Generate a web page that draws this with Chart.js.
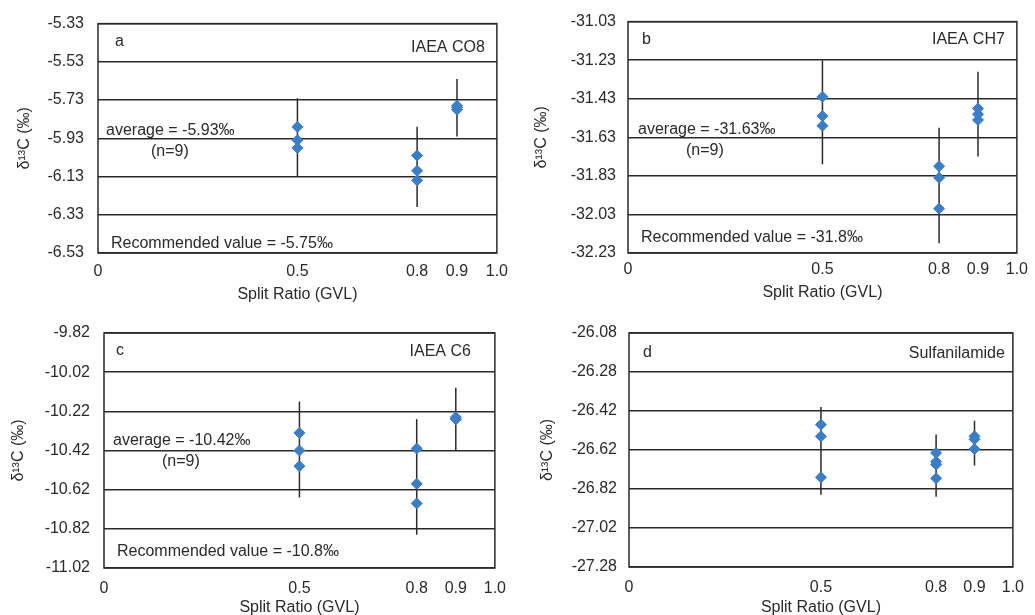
<!DOCTYPE html>
<html>
<head>
<meta charset="utf-8">
<script src="https://cdn.jsdelivr.net/npm/chart.js@4"></script>
<style>
  body { margin: 0; background: #fff; }
  .panel { position: absolute; }
</style>
</head>
<body>
<div class="panel" style="left:0;top:0"><canvas id="chartA" width="517" height="305"></canvas></div>
<div class="panel" style="left:517px;top:0"><canvas id="chartB" width="518" height="305"></canvas></div>
<div class="panel" style="left:0;top:305px"><canvas id="chartC" width="517" height="310"></canvas></div>
<div class="panel" style="left:517px;top:305px"><canvas id="chartD" width="518" height="310"></canvas></div>
<script>
const xTicks = [0, 0.5, 0.8, 0.9, 1.0];
const xTickLabels = ["0", "0.5", "0.8", "0.9", "1.0"];
const barX = [0.5, 0.8, 0.9];

// a: IAEA CO8
const aX = [0.5, 0.5, 0.5, 0.8, 0.8, 0.8, 0.9, 0.9, 0.9];
const aY = [-5.87, -5.94, -5.98, -6.02, -6.10, -6.15, -5.76, -5.77, -5.78];
const aBarLow = [-6.13, -6.29, -5.92];
const aBarHigh = [-5.72, -5.87, -5.62];
const aYTicks = [-5.33, -5.53, -5.73, -5.93, -6.13, -6.33, -6.53];
const aYTickLabels = ["-5.33", "-5.53", "-5.73", "-5.93", "-6.13", "-6.33", "-6.53"];

// b: IAEA CH7
const bX = [0.5, 0.5, 0.5, 0.8, 0.8, 0.8, 0.9, 0.9, 0.9];
const bY = [-31.42, -31.52, -31.57, -31.78, -31.84, -32.00, -31.48, -31.51, -31.54];
const bBarLow = [-31.77, -32.18, -31.73];
const bBarHigh = [-31.23, -31.58, -31.29];
const bYTicks = [-31.03, -31.23, -31.43, -31.63, -31.83, -32.03, -32.23];
const bYTickLabels = ["-31.03", "-31.23", "-31.43", "-31.63", "-31.83", "-32.03", "-32.23"];

// c: IAEA C6
const cX = [0.5, 0.5, 0.5, 0.8, 0.8, 0.8, 0.9, 0.9, 0.9];
const cY = [-10.33, -10.42, -10.50, -10.41, -10.59, -10.69, -10.25, -10.26, -10.26];
const cBarLow = [-10.66, -10.85, -10.42];
const cBarHigh = [-10.17, -10.26, -10.10];
const cYTicks = [-9.82, -10.02, -10.22, -10.42, -10.62, -10.82, -11.02];
const cYTickLabels = ["-9.82", "-10.02", "-10.22", "-10.42", "-10.62", "-10.82", "-11.02"];

// d: Sulfanilamide (printed labels are not evenly stepped, gridlines are)
const dX = [0.5, 0.5, 0.5, 0.8, 0.8, 0.8, 0.8, 0.9, 0.9, 0.9];
const dY = [-26.49, -26.55, -26.76, -26.635, -26.68, -26.695, -26.765, -26.55, -26.565, -26.615];
const dBarLow = [-26.85, -26.86, -26.70];
const dBarHigh = [-26.40, -26.54, -26.47];
const dYTicks = [-26.02, -26.22, -26.42, -26.62, -26.82, -27.02, -27.22];
const dYTickLabels = ["-26.08", "-26.28", "-26.42", "-26.62", "-26.82", "-27.02", "-27.28"];

const FONT = "'Liberation Sans', Arial, sans-serif";
const INK = "#2a2a2a";
const BLUE = "#3b7ec8";

const frame = {
  id: "frame",
  afterDraw(chart) {
    const { ctx, chartArea: a } = chart;
    ctx.save();
    ctx.strokeStyle = INK;
    ctx.lineWidth = 1.5;
    ctx.strokeRect(a.left, a.top, a.right - a.left, a.bottom - a.top);
    ctx.restore();
  }
};

const notes = {
  id: "notes",
  afterDraw(chart, args, opts) {
    const { ctx, chartArea: a } = chart;
    ctx.save();
    ctx.fillStyle = INK;
    ctx.font = "16px " + FONT;
    ctx.textBaseline = "alphabetic";
    (opts.items || []).forEach(t => {
      if (t.right != null) {
        ctx.textAlign = "right";
        ctx.fillText(t.text, a.right - t.right, a.top + t.y);
      } else {
        ctx.textAlign = "left";
        ctx.fillText(t.text, a.left + t.x, a.top + t.y);
      }
    });
    ctx.restore();
  }
};

function makePanel(id, cfg) {
  const datasets = [{
    data: cfg.xs.map((x, i) => ({ x, y: cfg.ys[i] })),
    pointStyle: "rectRot",
    pointRadius: 5.5,
    backgroundColor: BLUE,
    borderColor: BLUE,
    borderWidth: 1,
    showLine: false,
    order: 0
  }];
  barX.forEach((x, i) => {
    datasets.push({
      data: [{ x, y: cfg.low[i] }, { x, y: cfg.high[i] }],
      showLine: true,
      borderColor: INK,
      borderWidth: 1.5,
      pointRadius: 0,
      order: 1
    });
  });

  new Chart(document.getElementById(id), {
    type: "scatter",
    data: { datasets },
    options: {
      responsive: false,
      animation: false,
      layout: { padding: { top: cfg.top, right: cfg.right, left: 0, bottom: 0 } },
      plugins: {
        legend: { display: false },
        tooltip: { enabled: false },
        notes: { items: cfg.notes }
      },
      scales: {
        x: {
          type: "linear",
          min: 0,
          max: 1,
          afterBuildTicks: s => { s.ticks = xTicks.map(v => ({ value: v })); },
          afterFit: s => { s.height = cfg.xH; },
          grid: { display: false, drawTicks: false },
          border: { display: false },
          ticks: {
            color: INK,
            font: { family: FONT, size: 16 },
            padding: cfg.xPad,
            maxRotation: 0,
            callback: (v, i) => xTickLabels[i]
          },
          title: {
            display: true,
            text: "Split Ratio (GVL)",
            color: INK,
            font: { family: FONT, size: 16 },
            padding: { top: 0, bottom: cfg.xTitlePad }
          }
        },
        y: {
          type: "linear",
          min: cfg.yTicks[cfg.yTicks.length - 1],
          max: cfg.yTicks[0],
          afterBuildTicks: s => { s.ticks = cfg.yTicks.map(v => ({ value: v })); },
          afterFit: s => { s.width = cfg.left; },
          grid: { color: INK, lineWidth: 1.5, drawTicks: false },
          border: { display: false },
          ticks: {
            color: INK,
            font: { family: FONT, size: 16 },
            padding: cfg.yPad,
            callback: (v, i) => cfg.yLabels[i]
          },
          title: {
            display: true,
            text: "δ¹³C (‰)",
            color: INK,
            font: { family: FONT, size: 16 },
            padding: { top: cfg.yTitlePad, bottom: 0 }
          }
        }
      }
    },
    plugins: [frame, notes]
  });
}

makePanel("chartA", {
  xs: aX, ys: aY, low: aBarLow, high: aBarHigh,
  yTicks: aYTicks, yLabels: aYTickLabels,
  top: 20, right: 18, left: 98, xH: 52, xPad: 9, xTitlePad: 1, yPad: 14, yTitlePad: 15,
  notes: [
    { text: "a", x: 17, y: 22 },
    { text: "IAEA CO8", right: 12, y: 28 },
    { text: "average = -5.93‰", x: 8, y: 111 },
    { text: "(n=9)", x: 53, y: 132 },
    { text: "Recommended value = -5.75‰", x: 13, y: 224 }
  ]
});

makePanel("chartB", {
  xs: bX, ys: bY, low: bBarLow, high: bBarHigh,
  yTicks: bYTicks, yLabels: bYTickLabels,
  top: 20, right: 12, left: 111, xH: 52, xPad: 7, xTitlePad: 3, yPad: 12, yTitlePad: 15,
  notes: [
    { text: "b", x: 14, y: 22 },
    { text: "IAEA CH7", right: 12, y: 22 },
    { text: "average = -31.63‰", x: 10, y: 112 },
    { text: "(n=9)", x: 58, y: 133 },
    { text: "Recommended value = -31.8‰", x: 13, y: 220 }
  ]
});

makePanel("chartC", {
  xs: cX, ys: cY, low: cBarLow, high: cBarHigh,
  yTicks: cYTicks, yLabels: cYTickLabels,
  top: 28, right: 18, left: 104, xH: 47, xPad: 11, xTitlePad: -2, yPad: 14, yTitlePad: 9,
  notes: [
    { text: "c", x: 12, y: 22 },
    { text: "IAEA C6", right: 24, y: 23 },
    { text: "average = -10.42‰", x: 9, y: 112 },
    { text: "(n=9)", x: 58, y: 133 },
    { text: "Recommended value = -10.8‰", x: 13, y: 223 }
  ]
});

makePanel("chartD", {
  xs: dX, ys: dY, low: dBarLow, high: dBarHigh,
  yTicks: dYTicks, yLabels: dYTickLabels,
  top: 28, right: 11, left: 112, xH: 48, xPad: 11, xTitlePad: -2, yPad: 12, yTitlePad: 21,
  notes: [
    { text: "d", x: 14, y: 24 },
    { text: "Sulfanilamide", right: 8, y: 25 }
  ]
});
</script>
</body>
</html>
